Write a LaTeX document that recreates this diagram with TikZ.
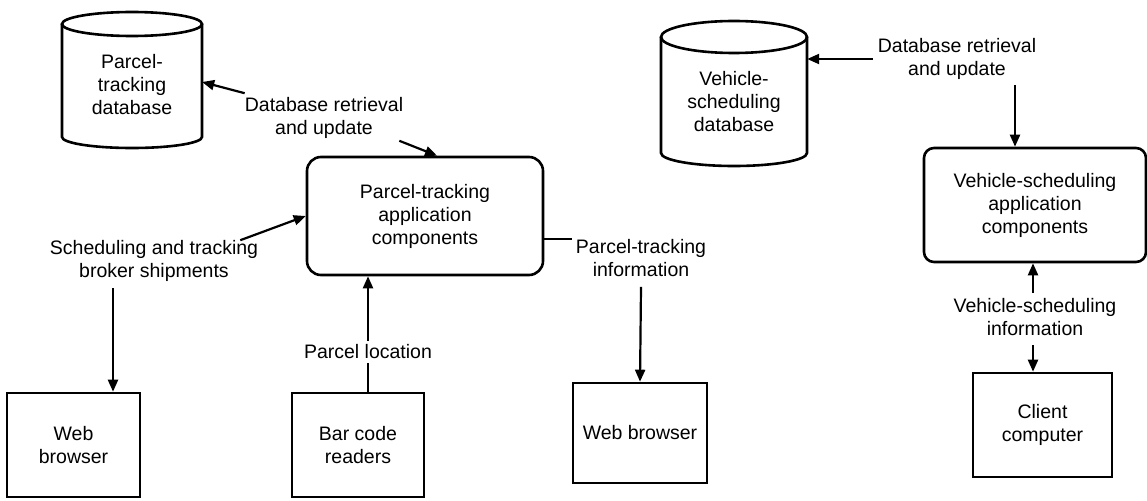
\documentclass[tikz,border=0pt]{standalone}
\usepackage{fontspec}
\setmainfont{Liberation Sans}
\usetikzlibrary{arrows.meta,calc}
\begin{document}
\begin{tikzpicture}[x=1pt,y=-1pt,
  txt/.style={font=\fontsize{19.5}{23}\selectfont, align=center, inner sep=0pt},
  box/.style={draw, line width=2.6pt, inner sep=0pt, font=\fontsize{19.5}{23}\selectfont, align=center},
  shp/.style={line width=2.6pt},
  arr/.style={-{Triangle[length=12pt,width=10pt]}, line width=2.2pt},
  ln/.style={line width=2.2pt}]
\useasboundingbox[fill=white] (0,0) rectangle (1147,500);

% databases (shapes)
\draw[shp] (132,24) ellipse [x radius=70, y radius=12];
\draw[shp] (62,24) -- (62,137) arc[start angle=180, end angle=0, x radius=70, y radius=11] -- (202,24);
\draw[shp] (734,37) ellipse [x radius=73, y radius=16];
\draw[shp] (661,37) -- (661,153) arc[start angle=180, end angle=0, x radius=73, y radius=13] -- (807,37);

\node[txt, minimum width=140pt] (pdb) at (132,85) {Parcel-\\tracking\\database};
\node[txt, minimum width=146pt] (vdb) at (734,102) {Vehicle-\\scheduling\\database};

% boxes
\node[box, rounded corners=14pt, minimum width=236pt, minimum height=118pt] (app) at (425,216) {Parcel-tracking\\application\\components};
\node[box, rounded corners=10pt, minimum width=222pt, minimum height=114pt] (vapp) at (1035,205) {Vehicle-scheduling\\application\\components};
\node[box, minimum width=133pt, minimum height=104pt] (wb1) at (73.5,445) {Web\\browser};
\node[box, minimum width=132pt, minimum height=104pt] (bc) at (358,445) {Bar code\\readers};
\node[box, minimum width=134pt, minimum height=100pt] (wb2) at (640,433) {Web browser};
\node[box, minimum width=139pt, minimum height=104pt] (cc) at (1042.5,425) {Client\\computer};

% labels
\node[txt] (plab) at (324,118) {Database retrieval\\and update};
\node[txt] (slab) at (154,261) {Scheduling and tracking\\broker shipments};
\node[txt] (ilab) at (641,258) {Parcel-tracking\\information};
\node[txt] (vlab) at (957,59) {Database retrieval\\and update};
\node[txt] (vinfo) at (1035,317) {Vehicle-scheduling\\information};

% connector end points
\coordinate (s1) at (113,288);
\coordinate (b1) at (368,393);
\coordinate (v1) at (1015,85);
\coordinate (i1) at (1033,293);
\coordinate (i2) at (1033,345);

% connectors
\draw[arr] ($(plab.north west)+(0,-4)$) -- ($(pdb.east)+(0,-3)$);
\draw[arr] ($(plab.south east)+(-4,2)$) -- ($(app.north)+(12,0)$);
\draw[arr] ($(slab.north east)+(-18,0)$) -- (app.west);
\draw[arr] (s1) -- (s1 |- wb1.north);
\draw[arr] (b1) -- (b1 |- app.south);
\node[txt, fill=white, inner ysep=4pt] (ploc) at (368,352) {Parcel location};
\draw[ln] (app.east |- ilab.north west) -- ($(ilab.north west)+(-4,0)$);
\draw[arr] ($(ilab.south)+(0,10)$) -- (wb2.north);
\draw[arr] ($(vlab.west)+(-5,0)$) -- (vlab.west -| vdb.east);
\draw[arr] (v1) -- (v1 |- vapp.north);
\draw[arr] (i1) -- (i1 |- vapp.south);
\draw[arr] (i2) -- (i2 |- cc.north);
\end{tikzpicture}
\end{document}
